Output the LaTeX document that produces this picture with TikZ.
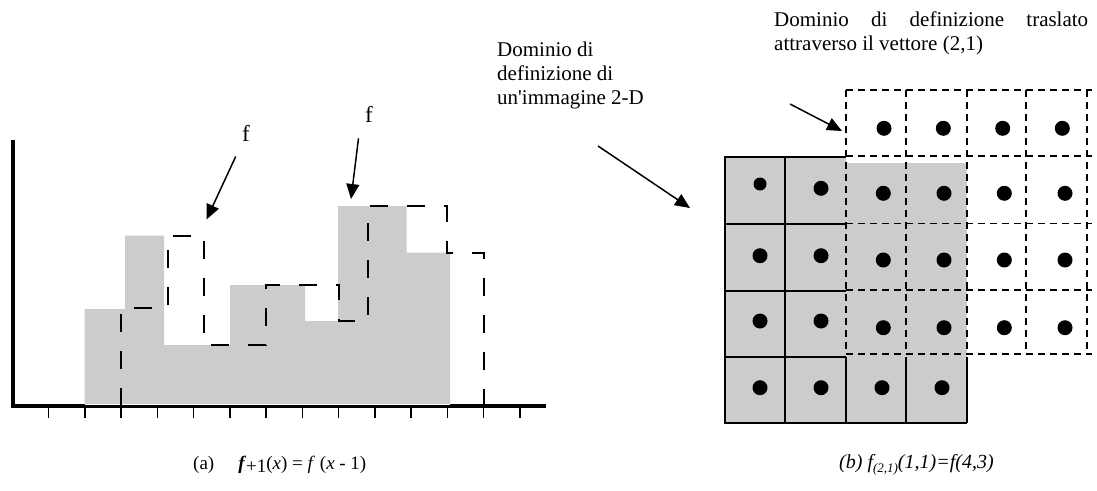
\documentclass[tikz,border=0pt]{standalone}
\usepackage{fontspec}
\setmainfont{Liberation Serif}
\usetikzlibrary{arrows.meta}
\newcommand{\straightq}{\XeTeXglyph\XeTeXcharglyph"0027\relax}
\begin{document}
\begin{tikzpicture}[x=1pt,y=-1pt,
  lbl/.style={font=\fontsize{21}{24}\selectfont, inner sep=0pt, align=left},
  flbl/.style={font=\fontsize{23}{24}\selectfont, inner sep=0pt},
  captxt/.style={font=\fontsize{19}{22}\selectfont, inner sep=0pt},
  ptr/.style={line width=1.5pt, -{Triangle[length=15pt,width=13pt]}},
  shifted/.style={line width=2pt, dash pattern=on 18pt off 19pt},
  cell/.style={line width=1.8pt},
  dcell/.style={line width=1.8pt, dash pattern=on 7pt off 5pt},
  axis/.style={line width=3.5pt},
  tickmark/.style={line width=1.5pt}]
\useasboundingbox (0,0) rectangle (1097,490);

% ---------- left chart ----------
\draw[axis] (13,140) -- (13,406) -- (546,406);
\foreach \i in {0,...,13} \draw[tickmark] ({48.7+36.25*\i},406) -- ++(0,12);
\fill[black!20] (84.5,404) -- (84.5,309) -- (125,309) -- (125,235.7) -- (164,235.7)
  -- (164,345) -- (230,345) -- (230,285) -- (305,285) -- (305,321) -- (338,321)
  -- (338,206) -- (406.7,206) -- (406.7,252.7) -- (450,252.7) -- (450,404) -- cycle;
\draw[white, line width=1pt] (84.5,404.6) -- (450,404.6);
\draw[shifted] (121,406) -- (121,308.3) -- (167.7,308.3) -- (167.7,235.7) -- (204,235.7)
  -- (204,345) -- (266,345) -- (266,285) -- (339,285) -- (339,321) -- (368.3,321)
  -- (368.3,206) -- (446.7,206) -- (446.7,252.7) -- (483.7,252.7) -- (483.7,406);

\node[flbl] (f1) at (246,133) {f};
\node[flbl] (f2) at (369,114.5) {f};
\coordinate (f1s) at (235.7,156.5);
\coordinate (f1t) at (206.5,219.5);
\coordinate (f2s) at (358.5,138.3);
\coordinate (f2t) at (351,199);
\draw[ptr] (f1s) -- (f1t);
\draw[ptr] (f2s) -- (f2t);

\node[captxt, anchor=base west] (capa) at (193,469)
  {(a)\hspace{24pt}\textbf{\textit{f}}\raisebox{-3pt}{+1}(\textit{x}) = \textit{f} (\textit{x} - 1)};

% ---------- right grid ----------
\fill[black!20] (725,156.7) rectangle (846,423.3);
\fill[black!20] (846,163) rectangle (966.7,423.3);
\draw[cell] (846,156.7) -- (725,156.7) -- (725,423.3) -- (966.7,423.3);
\draw[cell] (785,156.7) -- (785,423.3);
\foreach \y in {224,290.7,357.3} \draw[cell] (725,\y) -- (846,\y);
\foreach \x in {846,906,966.7} \draw[cell] (\x,357.3) -- (\x,423.3);
\foreach \x in {846,906,966.7,1026,1087.3} \draw[dcell] (\x,90) -- (\x,354);
\foreach \y in {90,156,223.5,290,354} \draw[dcell] (846,\y) -- (1092,\y);

\fill (760,184) circle (6.5pt);
\fill (821,188.3) circle (7.5pt);
\foreach \y in {255.7,321,387.7} {\fill (760,\y) circle (7.5pt); \fill (821,\y) circle (7.5pt);}
\fill (882,387.7) circle (7.5pt);
\fill (942,387.7) circle (7.5pt);
\foreach \y in {193.3,260,327.7}
  \foreach \x in {883.3,944,1004.3,1065} \fill (\x,\y) circle (7.5pt);
\foreach \x in {884,943.3,1002.7,1062.3} \fill (\x,128.3) circle (7.5pt);

\node[lbl, anchor=base west] (dom2d) at (497,104) {Dominio di\\definizione di\\un\straightq immagine 2-D};
\node[lbl, anchor=base west] (domtr) at (774,50)
  {\makebox[314pt][s]{Dominio di definizione traslato}\\attraverso il vettore (2,1)};
\coordinate (a3s) at (598,146);
\coordinate (a3t) at (690,208);
\coordinate (a4s) at (790,104);
\coordinate (a4t) at (842,131);
\draw[ptr] (a3s) -- (a3t);
\draw[ptr] (a4s) -- (a4t);

\node[captxt, anchor=base west, font=\fontsize{20}{22}\selectfont\itshape] (capb) at (839,468)
  {(b) f\raisebox{-4pt}{\fontsize{13}{13}\selectfont (2,1)}(1,1)=f(4,3)};
\end{tikzpicture}
\end{document}
